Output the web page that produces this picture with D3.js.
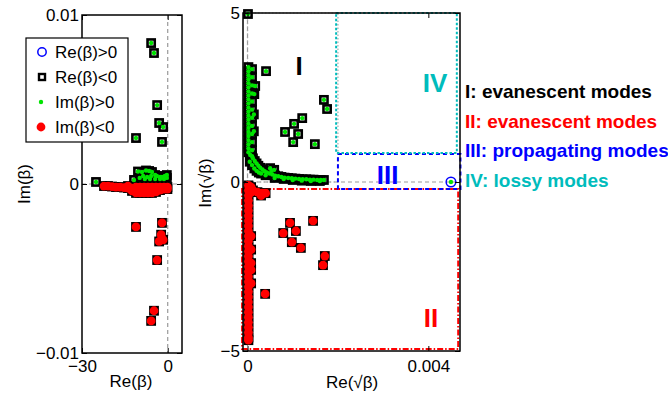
<!DOCTYPE html>
<html>
<head>
<meta charset="utf-8">
<script src="https://cdn.jsdelivr.net/npm/d3@7"></script>
<style>
  body { margin: 0; background: #fff; }
  text { font-family: "Liberation Sans", Arial, Helvetica, sans-serif; }
</style>
</head>
<body>
<svg id="chart" width="668" height="397"></svg>
<script>
// beta of modes with Im(beta) > 0 (all have Re(beta) < 0)
const betaUpRe = [-5.8, -4.8, -3.7, -3.0, -1.6, -11.1, -2.0, -25.1,
    -10.4, -9.0, -7.6, -6.5, -5.5, -8.6, -7.2, -5.8, -4.4, -3.8, -2.7, -2.0, -1.0, -0.3,
    -9.8, -8.0, -6.2, -4.4, -2.7, -1.3, -0.3, -11.8];
const betaUpIm = [0.00834, 0.00775, 0.00467, 0.00361, 0.00337, 0.00272, 0.00249, 0.00012,
    0.00074, 0.00071, 0.0008, 0.00077, 0.00071, 0.00047, 0.00041, 0.00047, 0.00053, 0.00047, 0.00041, 0.00041, 0.00047, 0.00053,
    0.00036, 0.0003, 0.0003, 0.0003, 0.0003, 0.0003, 0.00036, 0.00024];

// beta of modes with Im(beta) < 0
const betaDownRe = [-11.1, -2.0, -2.3, -3.0, -1.6, -3.7, -4.8, -5.8,
    -22.3, -20.9, -19.5, -18.1, -16.7, -15.3, -13.9, -13.9, -12.5, -12.5, -11.1, -11.1, -11.1,
    -9.7, -9.7, -9.7, -8.3, -8.3, -8.3, -6.9, -6.9, -6.9, -5.5, -5.5, -5.5, -4.1, -4.1, -4.1,
    -2.7, -2.7, -1.3, -1.3, -0.1, -0.1];
const betaDownIm = [-0.00254, -0.0023, -0.003, -0.0034, -0.0033, -0.0045, -0.0075, -0.0081,
    -0.00012, -0.00012, -0.00015, -0.00018, -0.00018, -0.00021, -0.00024, -0.00012, -0.00024, -0.00041, -0.00018, -0.00036, -0.00053,
    -0.00018, -0.00036, -0.00053, -0.00018, -0.00036, -0.00053, -0.00018, -0.00036, -0.00053, -0.00018, -0.00036, -0.00053, -0.00018, -0.00036, -0.00047,
    -0.00018, -0.00036, -0.00018, -0.0003, -0.00018, -0.0003];

// sqrt(beta), Im(beta) > 0
const rootUpRe = [0.00041, 0.00169, 0.00176, 0.00121, 0.00103, 0.00083, 0.00112, 0.00101, 0.00149, 0.00001,
    0.00002, 0.00002, 0.00002, 0.00002, 0.00002, 0.00002, 0.00002, 0.00002, 0.00002, 0.00002, 0.00002,
    0.00002, 0.00002, 0.00002, 0.00002, 0.00002, 0.00002, 0.00002, 0.00002, 0.00002, 0.00002, 0.00002,
    0.0001, 0.0001, 0.0001, 0.0001, 0.0001, 0.0001, 0.0001, 0.0001, 0.0001, 0.0001, 0.0001, 0.0001,
    0.00017, 0.00015, 0.00014, 0.00014,
    0.00006, 0.00012, 0.00016, 0.0002, 0.00024, 0.00028, 0.00033, 0.00038, 0.00043, 0.00049, 0.00055, 0.00061, 0.00068,
    0.00075, 0.00082, 0.0009, 0.00098, 0.00106, 0.00114, 0.00122, 0.0013, 0.00138, 0.00146, 0.00154, 0.00162, 0.00169,
    0.0004, 0.0006, 0.0008, 0.001, 0.0012, 0.0014, 0.0016,
    0.00005, 0.0001, 0.00015, 0.0002, 0.00025, 0.0003,
    0.0005, 0.00059, 0.00053];
const rootUpIm = [3.28, 2.43, 2.16, 1.89, 1.72, 1.48, 1.42, 1.18, 1.12, 4.97,
    3.4, 3.28, 3.16, 3.04, 2.92, 2.8, 2.68, 2.56, 2.44, 2.32, 2.2,
    2.08, 1.96, 1.84, 1.72, 1.6, 1.48, 1.36, 1.24, 1.12, 1.0, 0.88,
    3.34, 3.1, 2.86, 2.62, 2.38, 2.14, 1.9, 1.66, 1.42, 1.18, 0.94, 0.76,
    2.84, 2.6, 2.0, 1.5,
    0.8, 0.7, 0.62, 0.55, 0.48, 0.42, 0.37, 0.32, 0.28, 0.25, 0.22, 0.19, 0.17,
    0.15, 0.13, 0.12, 0.11, 0.1, 0.09, 0.08, 0.08, 0.07, 0.07, 0.06, 0.06, 0.06,
    0.2, 0.12, 0.09, 0.06, 0.04, 0.03, 0.03,
    0.6, 0.5, 0.4, 0.33, 0.28, 0.25,
    0.41, 0.36, 0.33];

// sqrt(beta), Im(beta) < 0
const rootDownRe = [0.00094, 0.00079, 0.00107, 0.00145, 0.00098, 0.00118, 0.00171, 0.00167, 0.00039,
    0.00002, 0.00002, 0.00002, 0.00002, 0.00002, 0.00002, 0.00002, 0.00002, 0.00002, 0.00002, 0.00002,
    0.00002, 0.00002, 0.00002, 0.00002, 0.00002, 0.00002, 0.00002, 0.00002, 0.00002, 0.00002,
    0.00002, 0.00002, 0.00002, 0.00002, 0.00002, 0.00002, 0.00002, 0.00002, 0.00002, 0.00002, 0.00002,
    0.00008, 0.00008, 0.00008, 0.00008, 0.00008, 0.00008,
    0.00008, 0.00012, 0.00022, 0.00032, 0.0004, 0.0003];
const rootDownIm = [-1.21, -1.51, -1.45, -1.15, -1.78, -1.95, -2.19, -2.46, -3.31,
    -0.1, -0.25, -0.4, -0.55, -0.7, -0.85, -1.0, -1.15, -1.3, -1.45, -1.6,
    -1.75, -1.9, -2.05, -2.2, -2.35, -2.5, -2.65, -2.8, -2.95, -3.1,
    -3.25, -3.4, -3.55, -3.7, -3.85, -4.0, -4.15, -4.3, -4.45, -4.6, -4.68,
    -0.3, -1.6, -2.0, -2.4, -2.6, -3.0,
    -0.15, -0.25, -0.3, -0.33, -0.33, -0.4];

// the single propagating mode (Re(beta) > 0)
const propRe = [0.0045];
const propIm = [0];

const leftXTicks = [-30, 0];
const leftYTicks = [-0.01, 0, 0.01];
const rightXTicks = [0, 0.004];
const rightYTicks = [-5, 0, 5];

const legendLabels = ['Re(β)>0', 'Re(β)<0', 'Im(β)>0', 'Im(β)<0'];

const regionNames = ['I', 'II', 'III', 'IV'];
const regionTexts = ['I: evanescent modes', 'II: evanescent modes', 'III: propagating modes', 'IV: lossy modes'];
const regionColors = ['#000000', '#ff0000', '#0000ff', '#00bcbc'];
const regionX0 = [0, -0.00012, 0.002, 0.00196];
const regionX1 = [0.002, 0.00466, 0.00471, 0.00463];
const regionY0 = [0, -4.94, -0.21, 0.86];
const regionY1 = [5, -0.21, 0.83, 5];

const GREEN = '#00e400';
const RED = '#ff0000';
const FONT = '"Liberation Sans", Arial, Helvetica, sans-serif';

const svg = d3.select('#chart');

const makePanel = (opts) => {
    const x = d3.scaleLinear().domain(opts.xDomain).range([opts.left, opts.right]);
    const y = d3.scaleLinear().domain(opts.yDomain).range([opts.bottom, opts.top]);
    return { ...opts, x, y, g: svg.append('g') };
};

const left = makePanel({
    xDomain: [-30, 5], yDomain: [-0.01, 0.01],
    left: 82, right: 182, top: 15, bottom: 353,
    xTicks: leftXTicks, yTicks: leftYTicks, xPad: 7,
});
const right = makePanel({
    xDomain: [-0.0001, 0.0047], yDomain: [-5, 5],
    left: 243, right: 460, top: 13, bottom: 351,
    xTicks: rightXTicks, yTicks: rightYTicks, xPad: 9,
});

const fmt = d3.format('~g');

const drawAxes = (p) => {
    const styleAxis = (sel) => {
        sel.attr('font-size', 17).attr('font-family', FONT);
        sel.select('.domain').remove();
        sel.selectAll('.tick line').attr('stroke', '#000').attr('stroke-width', 1);
        sel.selectAll('.tick text').attr('fill', '#000');
    };
    p.g.append('g').attr('transform', `translate(0,${p.bottom})`)
        .call(d3.axisBottom(p.x).tickValues(p.xTicks).tickSizeInner(-5).tickSizeOuter(0)
            .tickPadding(p.xPad).tickFormat(fmt))
        .call(styleAxis);
    p.g.append('g').attr('transform', `translate(0,${p.top})`)
        .call(d3.axisTop(p.x).tickValues(p.xTicks).tickSizeInner(-5).tickSizeOuter(0).tickFormat(''))
        .call(styleAxis);
    p.g.append('g').attr('transform', `translate(${p.left},0)`)
        .call(d3.axisLeft(p.y).tickValues(p.yTicks).tickSizeInner(-5).tickSizeOuter(0)
            .tickPadding(3).tickFormat(fmt))
        .call(styleAxis);
    p.g.append('g').attr('transform', `translate(${p.right},0)`)
        .call(d3.axisRight(p.y).tickValues(p.yTicks).tickSizeInner(-5).tickSizeOuter(0).tickFormat(''))
        .call(styleAxis);
    p.g.append('rect')
        .attr('x', p.left).attr('y', p.top)
        .attr('width', p.right - p.left).attr('height', p.bottom - p.top)
        .attr('fill', 'none').attr('stroke', '#000').attr('stroke-width', 1.5);
};

const drawZeroLines = (p) => {
    const g = p.g.append('g').attr('stroke', '#999').attr('stroke-width', 1.2)
        .attr('stroke-dasharray', '4,3');
    g.append('line').attr('x1', p.x(0)).attr('x2', p.x(0)).attr('y1', p.top).attr('y2', p.bottom);
    g.append('line').attr('x1', p.left).attr('x2', p.right).attr('y1', p.y(0)).attr('y2', p.y(0));
};

const drawSquares = (p, re, im) => {
    p.g.append('g').selectAll('rect').data(d3.zip(re, im)).join('rect')
        .attr('x', d => p.x(d[0]) - 3.6)
        .attr('y', d => p.y(d[1]) - 3.6)
        .attr('width', 7.2).attr('height', 7.2)
        .attr('fill', 'none').attr('stroke', '#000').attr('stroke-width', 2.6);
};

const drawDots = (p, re, im, color, r) => {
    p.g.append('g').selectAll('circle').data(d3.zip(re, im)).join('circle')
        .attr('cx', d => p.x(d[0]))
        .attr('cy', d => p.y(d[1]))
        .attr('r', r).attr('fill', color);
};

// region boxes on the sqrt(beta) panel
const regionDash = ['1.5,2', '6,2,1.5,2', '4,3', '2.5,2'];
const drawRegions = (p) => {
    regionNames.forEach((name, i) => {
        p.g.append('rect')
            .attr('x', p.x(regionX0[i])).attr('y', p.y(regionY1[i]))
            .attr('width', p.x(regionX1[i]) - p.x(regionX0[i]))
            .attr('height', p.y(regionY0[i]) - p.y(regionY1[i]))
            .attr('fill', 'none')
            .attr('stroke', i === 0 ? '#aaa' : regionColors[i])
            .attr('stroke-width', i === 0 ? 1.2 : 2)
            .attr('stroke-dasharray', regionDash[i]);
    });
};

drawZeroLines(left);
drawZeroLines(right);
drawRegions(right);

drawSquares(left, betaUpRe.concat(betaDownRe), betaUpIm.concat(betaDownIm));
drawDots(left, betaUpRe, betaUpIm, GREEN, 2.2);
drawDots(left, betaDownRe, betaDownIm, RED, 4.4);

drawSquares(right, rootUpRe.concat(rootDownRe), rootUpIm.concat(rootDownIm));
drawDots(right, rootUpRe, rootUpIm, GREEN, 2.2);
drawDots(right, rootDownRe, rootDownIm, RED, 4.4);
right.g.append('g').selectAll('circle').data(d3.zip(propRe, propIm)).join('circle')
    .attr('cx', d => right.x(d[0])).attr('cy', d => right.y(d[1]))
    .attr('r', 4.8).attr('fill', 'none').attr('stroke', '#0000ff').attr('stroke-width', 1.5);
drawDots(right, propRe, propIm, GREEN, 2.2);

drawAxes(left);
drawAxes(right);

// roman numerals inside the regions
const numeralAt = [[0.00114, 3.17], [0.00406, -4.29], [0.0031, -0.06], [0.00415, 2.66]];
right.g.append('g').selectAll('text').data(regionNames).join('text')
    .attr('x', (d, i) => right.x(numeralAt[i][0]))
    .attr('y', (d, i) => right.y(numeralAt[i][1]))
    .attr('text-anchor', 'middle')
    .attr('font-size', 26).attr('font-weight', 'bold')
    .attr('fill', (d, i) => regionColors[i])
    .text(d => d);

// region descriptions at the right
svg.append('g').selectAll('text').data(regionTexts).join('text')
    .attr('x', 465)
    .attr('y', (d, i) => 98 + i * 29.7)
    .attr('font-size', 19).attr('font-weight', 'bold')
    .attr('fill', (d, i) => regionColors[i])
    .text(d => d);

// axis titles
const title = (x, y, txt, rotate) => {
    svg.append('text')
        .attr('transform', `translate(${x},${y})${rotate ? ' rotate(-90)' : ''}`)
        .attr('text-anchor', 'middle').attr('font-size', 17)
        .text(txt);
};
title(131, 387, 'Re(β)', false);
title(30, 184, 'Im(β)', true);
title(352, 388, 'Re(√β)', false);
title(211, 183, 'Im(√β)', true);

// legend box
const legend = svg.append('g');
legend.append('rect')
    .attr('x', 26).attr('y', 38).attr('width', 102).attr('height', 104)
    .attr('fill', '#fff').attr('stroke', '#000').attr('stroke-width', 1.2);
const rowY = (i) => 52 + i * 25;
legend.append('circle').attr('cx', 42).attr('cy', rowY(0)).attr('r', 4.2)
    .attr('fill', 'none').attr('stroke', '#0000ff').attr('stroke-width', 1.5);
legend.append('rect').attr('x', 39).attr('y', rowY(1) - 3).attr('width', 6).attr('height', 6)
    .attr('fill', 'none').attr('stroke', '#000').attr('stroke-width', 2.4);
legend.append('circle').attr('cx', 41).attr('cy', rowY(2)).attr('r', 2.2).attr('fill', GREEN);
legend.append('circle').attr('cx', 41).attr('cy', rowY(3)).attr('r', 4.4).attr('fill', RED);
legend.selectAll('text.lab').data(legendLabels).join('text')
    .attr('class', 'lab')
    .attr('x', 55).attr('y', (d, i) => rowY(i) + 6)
    .attr('font-size', 17)
    .text(d => d);
</script>
</body>
</html>
